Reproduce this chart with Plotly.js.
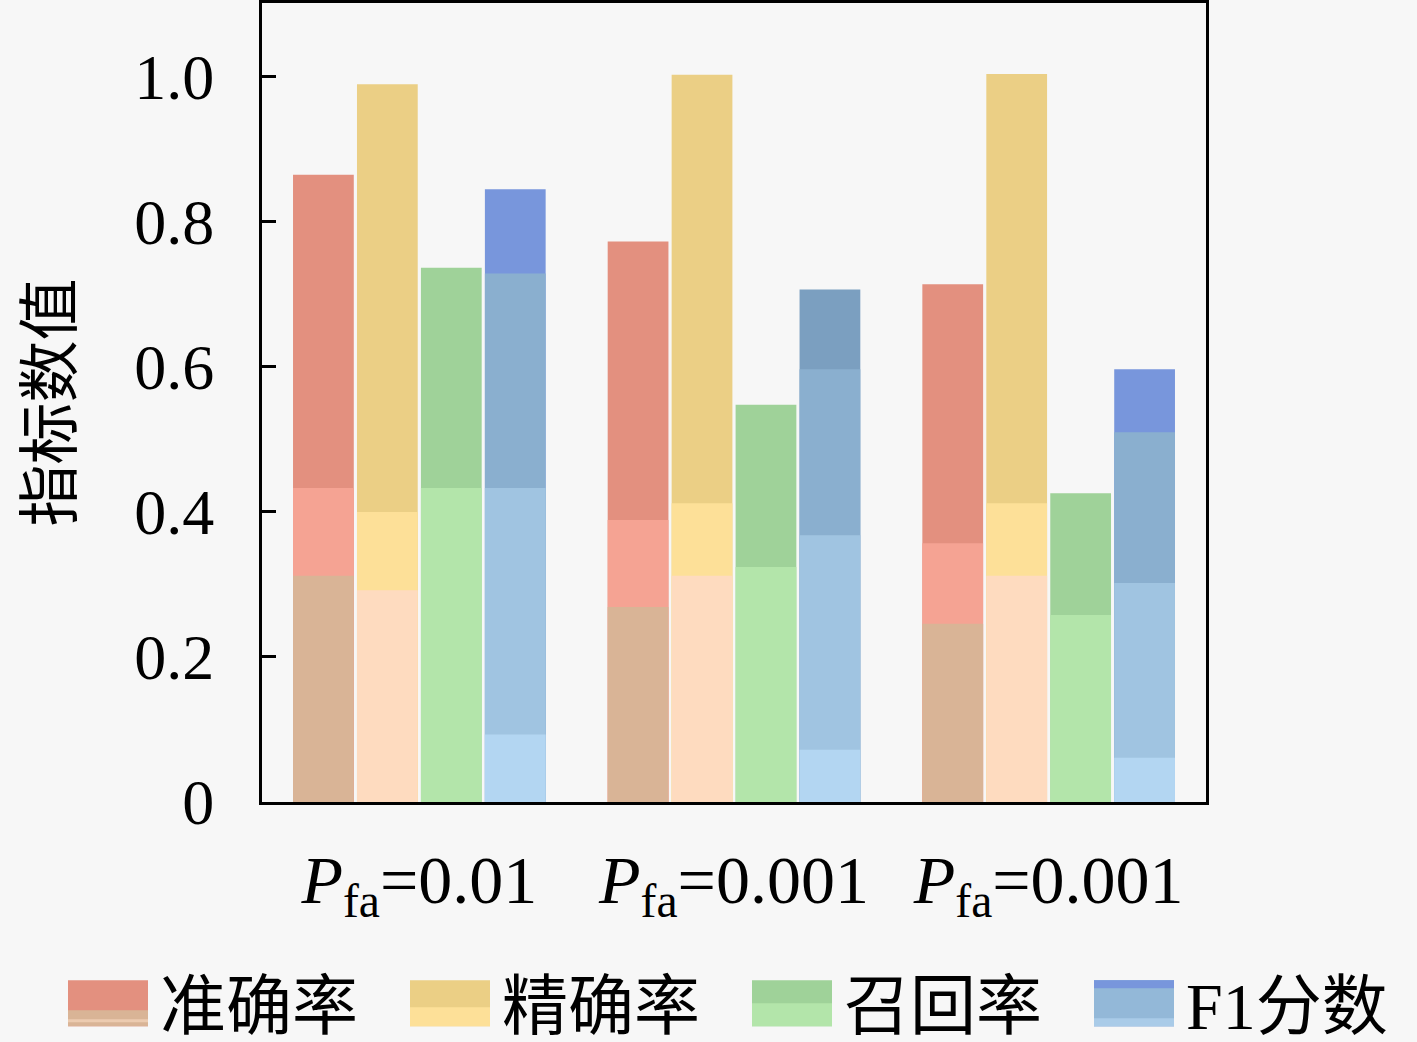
<!DOCTYPE html>
<html>
<head>
<meta charset="utf-8">
<script src="https://cdn.plot.ly/plotly-3.0.1.min.js"></script>
<style>
html,body{margin:0;padding:0;background:#f7f7f7;}
#chart{width:1417px;height:1042px;}
</style>
</head>
<body>
<div id="chart"></div>
<script>
// ---- data ----
const categories = ['G1', 'G2', 'G3'];
const groupLabels = ['<i>P</i><sub>fa</sub>=0.01', '<i>P</i><sub>fa</sub>=0.001', '<i>P</i><sub>fa</sub>=0.001'];
const seriesNames = ['准确率', '精确率', '召回率', 'F1分数'];

// 准确率 (accuracy): full height and inner shading tiers
const accuracy      = [0.865, 0.773, 0.714];
const accuracyMid   = [0.433, 0.389, 0.357];
const accuracyLow   = [0.312, 0.269, 0.246];
// 精确率 (precision)
const precision     = [0.990, 1.003, 1.004];
const precisionMid  = [0.400, 0.412, 0.412];
const precisionLow  = [0.292, 0.312, 0.312];
// 召回率 (recall)
const recall        = [0.737, 0.548, 0.426];
const recallLow     = [0.433, 0.324, 0.258];
// F1分数
const f1            = [0.845, 0.707, 0.597];
const f1Upper       = [0.729, 0.597, 0.510];
const f1Mid         = [0.433, 0.368, 0.302];
const f1Low         = [0.093, 0.072, 0.061];

const yTickVals = [0, 0.2, 0.4, 0.6, 0.8, 1.0];
const yTickText = ['0', '0.2', '0.4', '0.6', '0.8', '1.0'];

function tier(name, group, values, color, showlegend) {
  return {
    type: 'bar',
    x: categories,
    y: values,
    name: name,
    offsetgroup: group,
    legendgroup: group,
    showlegend: showlegend,
    marker: {color: color, line: {width: 0}},
    hoverinfo: 'skip'
  };
}

const data = [
  tier(seriesNames[0], 'acc', accuracy, '#e3907f', true),
  tier(seriesNames[0], 'acc', accuracyMid, '#f5a393', false),
  tier(seriesNames[0], 'acc', accuracyLow, '#d9b496', false),

  tier(seriesNames[1], 'pre', precision, '#ebcf85', true),
  tier(seriesNames[1], 'pre', precisionMid, '#fde098', false),
  tier(seriesNames[1], 'pre', precisionLow, '#fedbbf', false),

  tier(seriesNames[2], 'rec', recall, '#9fd299', true),
  tier(seriesNames[2], 'rec', recallLow, '#b3e5aa', false),

  tier(seriesNames[3], 'f1', f1, ['#7896dc', '#7b9fc0', '#7896dc'], true),
  tier(seriesNames[3], 'f1', f1Upper, '#8aafcf', false),
  tier(seriesNames[3], 'f1', f1Mid, '#a0c4e1', false),
  tier(seriesNames[3], 'f1', f1Low, '#b3d6f2', false)
];

// legend swatch shading bands (style only)
const legendBands = [
  [{y0: 7, y1: 23, color: '#d9b496'}, {y0: 16, y1: 19, color: '#eccbb0'}],
  [{y0: 4, y1: 23, color: '#fde098'}],
  [{y0: 0, y1: 23, color: '#b3e5aa'}],
  [{y0: -23, y1: 23, color: '#93b8d8'}, {y0: -23, y1: -15, color: '#7896dc'}, {y0: 15, y1: 23, color: '#a9cbe8'}]
];

const serif = '"Liberation Serif", "Noto Sans CJK SC", serif';
const W = 1417, H = 1042;

const layout = {
  width: W,
  height: H,
  paper_bgcolor: '#f7f7f7',
  plot_bgcolor: '#f7f7f7',
  margin: {l: 0, r: 0, t: 3, b: 240, autoexpand: false},
  barmode: 'group',
  bargap: 0.187,
  bargroupgap: 0.05,
  font: {family: serif, color: '#000', size: 62},
  xaxis: {
    domain: [262 / W, 1206 / W],
    type: 'category',
    tickvals: categories,
    ticktext: groupLabels,
    range: [-0.5, 2.5],
    showline: true, mirror: true, linecolor: '#000', linewidth: 3,
    ticks: '', showgrid: false, zeroline: false,
    ticklabelstandoff: 16,
    tickfont: {family: serif, size: 68, color: '#000'}
  },
  yaxis: {
    range: [0, 1.102],
    tickvals: yTickVals,
    ticktext: yTickText,
    showline: true, mirror: true, linecolor: '#000', linewidth: 3,
    ticks: 'inside', ticklen: 14, tickwidth: 3, tickcolor: '#000',
    showgrid: false, zeroline: false,
    ticklabelstandoff: 32,
    tickfont: {family: serif, size: 64, color: '#000'},
    title: {text: '指标数值', font: {family: '"Noto Sans CJK SC", sans-serif', size: 62, color: '#000'}, standoff: 42}
  },
  showlegend: true,
  legend: {
    orientation: 'h',
    x: 56 / W, xanchor: 'left',
    y: -0.19, yanchor: 'top',
    bgcolor: 'rgba(0,0,0,0)',
    borderwidth: 0,
    itemwidth: 94,
    entrywidth: 233,
    traceorder: 'normal',
    font: {family: serif, size: 66, color: '#000'}
  }
};

function fixLegend(gd) {
  const items = gd.querySelectorAll('g.legend g.traces');
  items.forEach(function (item, i) {
    const pts = item.querySelector('g.legendpoints');
    if (!pts) return;
    pts.querySelectorAll('path.swatchband').forEach(function (b) { b.remove(); });
    const p = pts.querySelector('path');
    if (!p) return;
    p.setAttribute('d', 'M40,23H-40V-23H40Z');
    (legendBands[i] || []).forEach(function (b) {
      const np = p.cloneNode(false);
      np.setAttribute('class', 'swatchband');
      np.setAttribute('d', 'M40,' + b.y1 + 'H-40V' + b.y0 + 'H40Z');
      np.style.fill = b.color;
      np.style.stroke = 'none';
      pts.appendChild(np);
    });
  });
}

Plotly.newPlot('chart', data, layout, {staticPlot: true, displayModeBar: false}).then(function (gd) {
  fixLegend(gd);
  gd.on('plotly_afterplot', function () { fixLegend(gd); });
  setTimeout(function () { fixLegend(gd); }, 50);
});
</script>
</body>
</html>
